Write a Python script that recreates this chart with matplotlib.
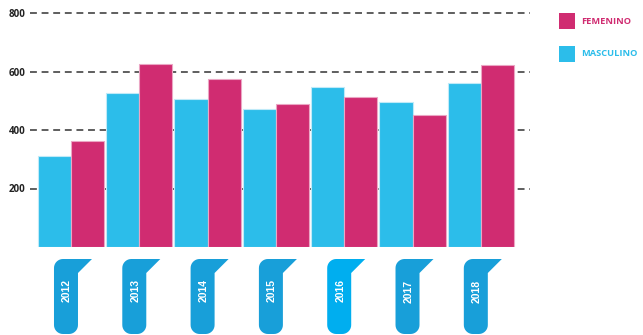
import numpy as np
import matplotlib
matplotlib.use('Agg')
import matplotlib.pyplot as plt
from matplotlib.patches import Polygon, Rectangle

# data
years = ['2012', '2013', '2014', '2015', '2016', '2017', '2018']
masculino = [311, 526, 506, 473, 548, 495, 560]
femenino = [362, 627, 574, 490, 512, 451, 621]
yticks = [200, 400, 600, 800]

cyan = '#2CBDEA'
magenta = '#D02C71'
tab_blue = '#189FD9'
tab_hi = '#00AEEF'

W, H = 643, 335
fig = plt.figure(figsize=(W / 100, H / 100), dpi=100)

ax = fig.add_axes([30 / W, 1 - 247 / H, 500 / W, 240 / H])
x = np.arange(len(years))
w = 0.485
ax.bar(x - w / 2, masculino, w, color=cyan, edgecolor='#BFEAF8', lw=0.8, zorder=3)
ax.bar(x + w / 2, femenino, w, color=magenta, edgecolor='#EBA6C4', lw=0.8, zorder=3)

ax.set_xlim(-0.6, 6.72)
ax.set_ylim(0, 800 * 240 / 234)
ax.set_xticks([])
ax.set_yticks(yticks)
ax.grid(axis='y', color='#333333', lw=1.1, ls=(0, (4.5, 3.1)), zorder=0)
ax.set_axisbelow(True)
for s in ax.spines.values():
    s.set_visible(False)
ax.tick_params(axis='y', length=0, pad=3, labelsize=7, labelcolor='#222222')
for lab in ax.get_yticklabels():
    lab.set_fontweight('bold')
    lab.set_family('Open Sans')

# overlay in pixel coords for the year tabs and the legend
ov = fig.add_axes([0, 0, 1, 1])
ov.set_xlim(0, W)
ov.set_ylim(H, 0)
ov.axis('off')


def tab_points(cx, top=259, bot=334, half=12, flag=14, rt=9, rb=9):
    l, r = cx - half, cx + half
    pts = []
    t = np.linspace(np.pi, 1.5 * np.pi, 10)
    pts += list(zip(l + rt + rt * np.cos(t), top + rt + rt * np.sin(t)))
    pts += [(r + flag, top), (r, top + flag), (r, bot - rb)]
    t = np.linspace(0, 0.5 * np.pi, 10)
    pts += list(zip(r - rb + rb * np.cos(t), bot - rb + rb * np.sin(t)))
    t = np.linspace(0.5 * np.pi, np.pi, 10)
    pts += list(zip(l + rb + rb * np.cos(t), bot - rb + rb * np.sin(t)))
    return pts


for i, yr in enumerate(years):
    cx = ax.transData.transform((i, 0))[0] - 5
    col = tab_hi if yr == '2016' else tab_blue
    ov.add_patch(Polygon(tab_points(cx), closed=True, color=col, lw=0))
    ov.text(cx + 1, 291, yr, rotation=90, color='white', fontsize=7.5,
            fontweight='bold', family='Liberation Sans', ha='center', va='center')

# legend
for j, (name, col) in enumerate([('FEMENINO', magenta), ('MASCULINO', cyan)]):
    y0 = 13 + 33 * j
    ov.add_patch(Rectangle((559, y0), 16, 16, color=col, lw=0))
    ov.text(581, y0 + 8, name, color=col, fontsize=6.7, fontweight='bold',
            family='Open Sans', ha='left', va='center')

fig.savefig('out.png', dpi=100)
